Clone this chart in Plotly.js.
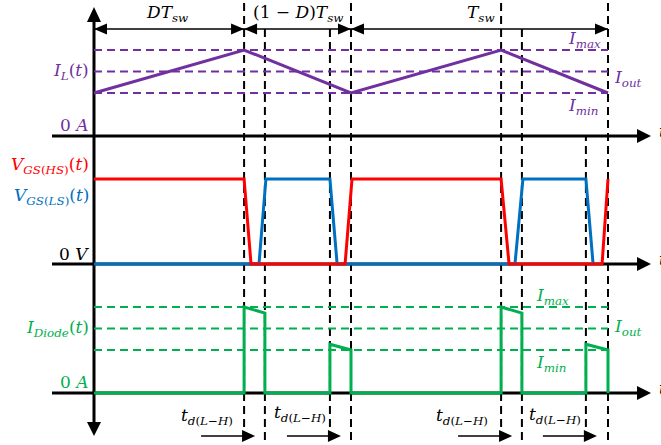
<!DOCTYPE html>
<html><head><meta charset="utf-8">
<script src="https://cdn.plot.ly/plotly-3.0.1.min.js"></script>
<style>html,body{margin:0;padding:0;background:#fff}</style>
</head><body><div id="chart" style="width:661px;height:445px"></div>
<script>
// ---------------- data (time in units where T_sw = 10) ----------------
const tIL = [0, 5.84, 10, 15.84, 20];
const IL  = [2, 4, 2, 4, 2];
const levelValues = [4, 3, 2];                 // I_max, I_out, I_min
const levelLabels = ['max', 'out', 'min'];
const tHS = [0, 5.84, 6.11, 9.77, 10.04, 15.84, 16.15, 19.77, 20];
const vHS = [1, 1, 0, 0, 1, 1, 0, 0, 1];
const tLS = [0, 6.42, 6.69, 9.18, 9.46, 16.38, 16.69, 19.14, 19.42];
const vLS = [0, 0, 1, 1, 0, 0, 1, 1, 0];
const tDiode = [0, 5.84, 5.84, 6.65, 6.65, 9.18, 9.18, 10, 10, 15.84, 15.84, 16.65, 16.65, 19.14, 19.14, 20, 20];
const iDiode = [0, 0, 4, 3.72, 0, 0, 2.27, 2.0, 0, 0, 4, 3.72, 0, 0, 2.27, 2.0, 0];
const markTimes = [5.84, 6.65, 9.18, 10, 15.84, 16.65, 19.14, 20];
const spanTimes = [0, 5.84, 10, 20];
const spanLabels = ['<i>DT</i><sub><i>sw</i></sub>', '(1 − <i>D</i>)<i>T</i><sub><i>sw</i></sub>', '<i>T</i><sub><i>sw</i></sub>'];
const tdTimes = [5.84, 9.18, 15.84, 19.14];
const tdLabel = '<i>t</i><sub><i>d</i>(<i>L</i>−<i>H</i>)</sub>';

// ---------------- layout geometry ----------------
const W = 661, H = 445, X0 = 94, KX = 25.7;
const PURPLE = '#7030A0', RED = '#FF0000', BLUE = '#0070C0', GREEN = '#00B050';
const FONT = 'DejaVu Serif';
const FS = 17;
const px = x => x / W, py = y => 1 - y / H;
const tx = t => X0 + t * KX;
const yr = (base, scale) => [(base - H) / scale, base / scale];
const markTop = [0, 29, 29, 0, 0, 29, 136, 0];

const traces = [];
levelValues.forEach(v => {
  traces.push({x: [0, 20], y: [v, v], yaxis: 'y', mode: 'lines', line: {color: PURPLE, width: 2, dash: '8px,5px'}, hoverinfo: 'skip'});
  traces.push({x: [0, 20], y: [v, v], yaxis: 'y3', mode: 'lines', line: {color: GREEN, width: 2, dash: '8px,5px'}, hoverinfo: 'skip'});
});
traces.push({x: tIL, y: IL, yaxis: 'y', mode: 'lines', line: {color: PURPLE, width: 3}});
traces.push({x: tLS, y: vLS, yaxis: 'y2', mode: 'lines', line: {color: BLUE, width: 3}});
traces.push({x: tHS, y: vHS, yaxis: 'y2', mode: 'lines', line: {color: RED, width: 3}});
traces.push({x: tDiode, y: iDiode, yaxis: 'y3', mode: 'lines', line: {color: GREEN, width: 3}});

const shapes = [];
function seg(x0, y0, x1, y1, w, dash) {
  shapes.push({type: 'line', xref: 'paper', yref: 'paper', x0: px(x0), y0: py(y0), x1: px(x1), y1: py(y1),
    line: {color: '#000', width: w, dash: dash || 'solid'}, layer: 'below'});
}
function tri(x, y, dir, len, half) {
  let p;
  if (dir === 'r') p = [[x, y], [x - len, y - half], [x - len, y + half]];
  if (dir === 'l') p = [[x, y], [x + len, y - half], [x + len, y + half]];
  if (dir === 'u') p = [[x, y], [x - half, y + len], [x + half, y + len]];
  if (dir === 'd') p = [[x, y], [x - half, y - len], [x + half, y - len]];
  const path = 'M' + p.map(q => px(q[0]) + ',' + py(q[1])).join(' L') + ' Z';
  shapes.push({type: 'path', xref: 'paper', yref: 'paper', path: path, fillcolor: '#000', line: {width: 0}});
}
markTimes.forEach((t, i) => {
  shapes.push({type: 'line', xref: 'x', yref: 'paper', x0: t, x1: t, y0: py(440), y1: py(markTop[i]),
    line: {color: '#000', width: 2, dash: '8px,5px'}, layer: 'below'});
});
seg(94, 20, 94, 423, 3);
tri(94, 7, 'u', 15, 7);
tri(94, 436, 'd', 14, 7);
[136, 264, 393].forEach(y => { seg(52, y, 639, y, 3); tri(651, y, 'r', 14, 7); });
seg(tx(spanTimes[0]), 29, tx(spanTimes[3]), 29, 1.5);
spanTimes.forEach((t, i) => {
  if (i > 0) tri(tx(t), 29, 'r', 13, 5.5);
  if (i < spanTimes.length - 1) tri(tx(t), 29, 'l', 13, 5.5);
});
tdTimes.forEach(t => { seg(tx(t) - 43, 436, tx(t) + 2, 436, 1.5); tri(tx(t) + 11, 436, 'r', 13, 6); });

const annotations = [];
function lab(text, x, y, color, anchor) {
  annotations.push({text: text, xref: 'paper', yref: 'paper', x: px(x), y: py(y), xanchor: anchor || 'center', yanchor: 'middle',
    showarrow: false, font: {family: FONT, size: FS, color: color}});
}
lab(spanLabels[0], (tx(spanTimes[0]) + tx(spanTimes[1])) / 2 - 2, 13, '#000');
lab(spanLabels[1], (tx(spanTimes[1]) + tx(spanTimes[2])) / 2, 13, '#000');
lab(spanLabels[2], (tx(spanTimes[2]) + tx(spanTimes[3])) / 2 + 1, 14, '#000');
lab('<i>I</i><sub><i>L</i></sub>(<i>t</i>)', 91, 71, PURPLE, 'right');
lab('0 <i>A</i>', 91, 125, PURPLE, 'right');
lab('<i>I</i><sub><i>' + levelLabels[0] + '</i></sub>', 584, 39, PURPLE);
lab('<i>I</i><sub><i>' + levelLabels[1] + '</i></sub>', 628, 78, PURPLE);
lab('<i>I</i><sub><i>' + levelLabels[2] + '</i></sub>', 583, 106, PURPLE);
lab('<i>V</i><sub><i>GS</i>(<i>HS</i>)</sub>(<i>t</i>)', 91, 165, RED, 'right');
lab('<i>V</i><sub><i>GS</i>(<i>LS</i>)</sub>(<i>t</i>)', 91, 197, BLUE, 'right');
lab('0 <i>V</i>', 91, 254, '#000', 'right');
lab('<i>I</i><sub><i>Diode</i></sub>(<i>t</i>)', 91, 328, GREEN, 'right');
lab('0 <i>A</i>', 91, 382, GREEN, 'right');
lab('<i>I</i><sub><i>' + levelLabels[0] + '</i></sub>', 552, 296, GREEN);
lab('<i>I</i><sub><i>' + levelLabels[1] + '</i></sub>', 628, 327, GREEN);
lab('<i>I</i><sub><i>' + levelLabels[2] + '</i></sub>', 551, 363, GREEN);
const tdPos = [[207, 416], [300, 413], [462, 416], [555, 415]];
tdPos.forEach(p => lab(tdLabel, p[0], p[1], '#000'));
[131, 259, 388].forEach(y => lab('<i>t</i>', 657, y, '#000', 'left'));

const layout = {
  width: W, height: H, margin: {l: 0, r: 0, t: 0, b: 0},
  paper_bgcolor: '#fff', plot_bgcolor: 'rgba(0,0,0,0)', showlegend: false,
  xaxis: {range: [-X0 / KX, (W - X0) / KX], visible: false, fixedrange: true},
  yaxis: {range: yr(136, 21.5), visible: false, fixedrange: true},
  yaxis2: {range: yr(264, 85), visible: false, overlaying: 'y', fixedrange: true},
  yaxis3: {range: yr(393, 21.5), visible: false, overlaying: 'y', fixedrange: true},
  shapes: shapes, annotations: annotations
};
Plotly.newPlot('chart', traces, layout, {staticPlot: true, displayModeBar: false});
</script></body></html>
